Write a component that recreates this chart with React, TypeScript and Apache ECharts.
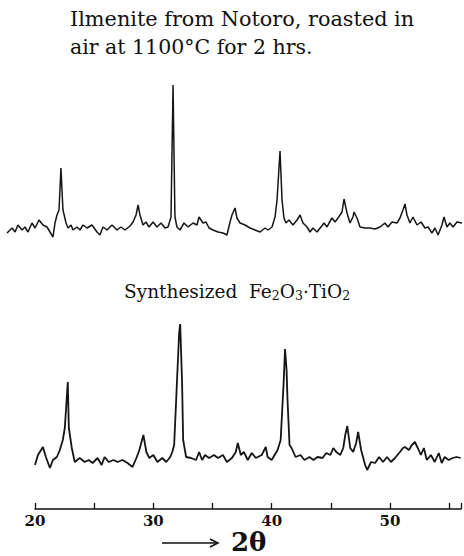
import React, { useEffect, useRef } from "react";
import * as echarts from "echarts";

// Upper pattern: Ilmenite from Notoro, roasted (2θ in degrees, relative intensity)
const topScan: [number, number][] = [
  [17.65, 17], [18.07, 22], [18.32, 18], [18.57, 25], [18.91, 20], [19.16, 23], [19.41, 18], [19.75, 27], [20.0, 22], [20.34, 30],
  [20.67, 25], [21.01, 23], [21.26, 18], [21.51, 13], [21.68, 27], [21.85, 35], [22.02, 40], [22.18, 82], [22.35, 40], [22.61, 27],
  [22.77, 22], [23.03, 25], [23.19, 20], [23.53, 23], [23.78, 20], [24.03, 25], [24.37, 22], [24.79, 25], [25.21, 18], [25.46, 15],
  [25.71, 23], [26.05, 20], [26.47, 25], [26.89, 20], [27.23, 23], [27.56, 20], [27.98, 24], [28.24, 28], [28.49, 35], [28.66, 45],
  [28.82, 35], [29.08, 25], [29.33, 28], [29.58, 23], [29.92, 28], [30.25, 23], [30.59, 27], [30.92, 22], [31.18, 23], [31.43, 33],
  [31.6, 165], [31.76, 33], [31.93, 23], [32.18, 20], [32.52, 27], [32.86, 23], [33.28, 27], [33.61, 25], [33.78, 33], [34.12, 27],
  [34.37, 28], [34.62, 22], [34.96, 20], [35.38, 18], [35.8, 17], [36.13, 15], [36.39, 28], [36.55, 35], [36.81, 42], [36.97, 32],
  [37.23, 27], [37.65, 25], [38.07, 22], [38.49, 20], [38.91, 18], [39.33, 22], [39.58, 20], [39.92, 23], [40.17, 33], [40.34, 50],
  [40.59, 99], [40.76, 50], [40.92, 32], [41.09, 27], [41.34, 30], [41.68, 25], [42.02, 30], [42.27, 35], [42.52, 27], [42.86, 23],
  [43.11, 18], [43.36, 22], [43.7, 18], [44.03, 23], [44.29, 27], [44.54, 23], [44.71, 27], [44.96, 32], [45.21, 28], [45.46, 32],
  [45.8, 38], [45.97, 51], [46.22, 37], [46.47, 27], [46.72, 33], [46.81, 38], [47.06, 32], [47.31, 23], [47.73, 22], [48.15, 22],
  [48.57, 21], [48.99, 23], [49.41, 27], [49.66, 23], [50.0, 28], [50.42, 27], [50.67, 32], [50.92, 40], [51.09, 46], [51.26, 35],
  [51.51, 27], [51.76, 33], [52.1, 25], [52.44, 28], [52.77, 22], [53.03, 23], [53.36, 17], [53.61, 22], [53.87, 15], [54.2, 25],
  [54.37, 33], [54.62, 23], [54.87, 27], [55.13, 23], [55.46, 28], [55.88, 27],
];

// Lower pattern: Synthesized Fe2O3·TiO2
const bottomScan: [number, number][] = [
  [20.0, 15], [20.25, 25], [20.67, 33], [20.92, 23], [21.26, 12], [21.51, 20], [21.85, 23], [22.1, 30], [22.35, 40], [22.52, 52],
  [22.77, 98], [22.86, 52], [23.11, 32], [23.36, 18], [23.78, 22], [24.2, 18], [24.54, 20], [24.87, 17], [25.29, 22], [25.63, 15],
  [25.88, 23], [26.22, 18], [26.64, 20], [26.97, 18], [27.39, 20], [27.82, 17], [28.24, 13], [28.57, 22], [28.82, 30], [29.16, 45],
  [29.41, 28], [29.66, 22], [30.0, 25], [30.34, 18], [30.76, 22], [31.09, 18], [31.43, 23], [31.6, 28], [31.76, 35], [31.93, 80],
  [32.18, 147], [32.27, 156], [32.43, 97], [32.52, 40], [32.77, 23], [33.19, 22], [33.61, 20], [33.87, 28], [34.12, 20], [34.37, 25],
  [34.71, 22], [35.13, 25], [35.46, 22], [35.88, 25], [36.22, 18], [36.64, 22], [36.97, 28], [37.14, 37], [37.39, 25], [37.65, 28],
  [37.98, 20], [38.32, 27], [38.66, 22], [39.16, 25], [39.5, 33], [39.66, 23], [40.0, 20], [40.25, 25], [40.5, 30], [40.76, 40],
  [41.01, 97], [41.13, 131], [41.26, 110], [41.34, 80], [41.51, 35], [41.68, 32], [42.02, 23], [42.44, 25], [42.77, 20], [43.19, 23],
  [43.53, 20], [43.87, 23], [44.29, 22], [44.62, 27], [44.96, 25], [45.21, 32], [45.46, 28], [45.8, 25], [46.05, 32], [46.22, 45],
  [46.39, 54], [46.64, 32], [46.89, 28], [47.14, 37], [47.31, 48], [47.56, 30], [47.9, 15], [48.07, 10], [48.4, 18], [48.74, 17],
  [49.08, 23], [49.41, 18], [49.75, 23], [50.08, 18], [50.42, 22], [50.84, 28], [51.09, 32], [51.26, 33], [51.6, 30], [51.85, 35],
  [52.1, 38], [52.35, 32], [52.61, 25], [52.86, 32], [53.11, 20], [53.45, 25], [53.78, 18], [54.12, 27], [54.37, 17], [54.62, 23],
  [54.96, 20], [55.29, 22], [55.63, 23], [55.97, 22],
];

const tickLabels = [20, 30, 40, 50];
const titleLines = ["Ilmenite from Notoro, roasted in", "air at 1100°C for 2 hrs."];
const axisName = "2θ";

const SERIF = '"DejaVu Serif", "Liberation Serif", serif';

export default function App() {
  const ref = useRef<HTMLDivElement>(null);

  useEffect(() => {
    if (!ref.current) return;
    const chart = echarts.init(ref.current, undefined, { renderer: "svg" });
    const option: any = {
      animation: false,
      backgroundColor: "#ffffff",
      grid: [
        { left: 5.25, top: 80, width: 458.15, height: 170 },
        { left: 35, top: 310, width: 428.4, height: 199 },
      ],
      xAxis: [
        { gridIndex: 0, type: "value", min: 17.5, max: 56, show: false },
        {
          gridIndex: 1,
          type: "value",
          min: 20,
          max: 56,
          interval: 5,
          axisLine: { onZero: false, lineStyle: { color: "#111", width: 1.6 } },
          axisTick: { inside: true, length: 6, lineStyle: { color: "#111", width: 1.3 } },
          axisLabel: {
            margin: 4,
            fontFamily: SERIF,
            fontWeight: "bold",
            fontSize: 15,
            color: "#111",
            formatter: (v: number) => (tickLabels.includes(v) ? String(v) : ""),
          },
          splitLine: { show: false },
        },
      ],
      yAxis: [
        { gridIndex: 0, type: "value", min: 0, max: 170, show: false },
        { gridIndex: 1, type: "value", min: -29, max: 170, show: false },
      ],
      series: [
        {
          type: "line",
          xAxisIndex: 0,
          yAxisIndex: 0,
          data: topScan,
          symbol: "none",
          lineStyle: { color: "#151515", width: 1.5 },
        },
        {
          type: "line",
          xAxisIndex: 1,
          yAxisIndex: 1,
          data: bottomScan,
          symbol: "none",
          lineStyle: { color: "#151515", width: 1.8 },
        },
      ],
      graphic: [
        {
          type: "text",
          x: 70,
          y: 19,
          style: { text: titleLines[0], font: `20.8px ${SERIF}`, fill: "#111", textVerticalAlign: "middle" },
        },
        {
          type: "text",
          x: 70,
          y: 47,
          style: { text: titleLines[1], font: `20.5px ${SERIF}`, fill: "#111", textVerticalAlign: "middle" },
        },
        {
          type: "text",
          x: 124,
          y: 291,
          style: {
            text: "{a|Synthesized  Fe}{s|2}{a|O}{s|3}{a|·TiO}{s|2}",
            fill: "#111",
            textVerticalAlign: "middle",
            rich: {
              a: { font: `18.5px ${SERIF}`, fill: "#111", lineHeight: 22 },
              s: { font: `12.5px ${SERIF}`, fill: "#111", lineHeight: 11, verticalAlign: "bottom" },
            },
          },
        },
        {
          type: "line",
          shape: { x1: 162, y1: 543, x2: 217, y2: 543 },
          style: { stroke: "#111", lineWidth: 1.5 },
        },
        {
          type: "polyline",
          shape: { points: [[210, 539], [218, 543], [210, 547]] },
          style: { stroke: "#111", lineWidth: 1.5, fill: null },
        },
        {
          type: "text",
          x: 231,
          y: 542,
          style: { text: axisName, font: `bold 26px ${SERIF}`, fill: "#111", textVerticalAlign: "middle" },
        },
      ],
    };
    chart.setOption(option);
    return () => chart.dispose();
  }, []);

  return (
    <div
      ref={ref}
      style={{ position: "absolute", left: 0, top: 0, width: 464, height: 556, background: "#fff" }}
    />
  );
}
